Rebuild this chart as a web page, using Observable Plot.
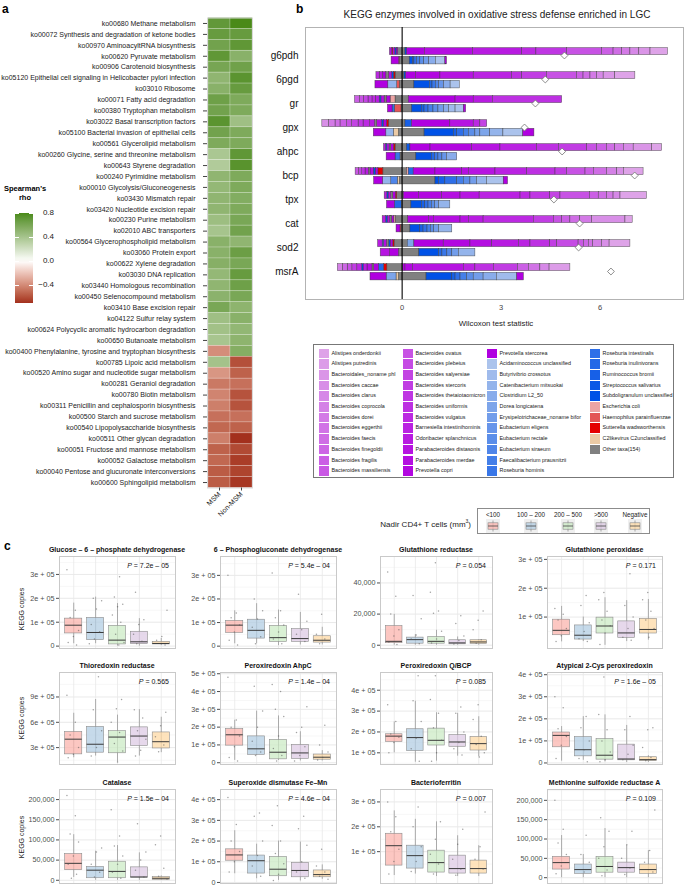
<!DOCTYPE html>
<html><head><meta charset="utf-8">
<script src="https://cdn.jsdelivr.net/npm/d3@7"></script>
<script src="https://cdn.jsdelivr.net/npm/@observablehq/plot@0.6"></script>
<style>
body{margin:0;background:#fff;font-family:"Liberation Sans",Arial,sans-serif;}
#root{position:relative;width:685px;height:886px;overflow:hidden;background:#fff;}
#root svg{position:absolute;overflow:visible;}
</style></head>
<body><div id="root"></div>
<script>
// ---------------- Panel a data ----------------
const heatGroups = ["MSM", "Non-MSM"];
const pathways = [
 "ko00680 Methane metabolism","ko00072 Synthesis and degradation of ketone bodies","ko00970 AminoacyltRNA biosynthesis",
 "ko00620 Pyruvate metabolism","ko00906 Carotenoid biosynthesis","ko05120 Epithelial cell signaling in Helicobacter pylori infection",
 "ko03010 Ribosome","ko00071 Fatty acid degradation","ko00380 Tryptophan metabolism","ko03022 Basal transcription factors",
 "ko05100 Bacterial invasion of epithelial cells","ko00561 Glycerolipid metabolism","ko00260 Glycine, serine and threonine metabolism",
 "ko00643 Styrene degradation","ko00240 Pyrimidine metabolism","ko00010 Glycolysis/Gluconeogenesis","ko03430 Mismatch repair",
 "ko03420 Nucleotide excision repair","ko00230 Purine metabolism","ko02010 ABC transporters","ko00564 Glycerophospholipid metabolism",
 "ko03060 Protein export","ko00622 Xylene degradation","ko03030 DNA replication","ko03440 Homologous recombination",
 "ko00450 Selenocompound metabolism","ko03410 Base excision repair","ko04122 Sulfur relay system",
 "ko00624 Polycyclic aromatic hydrocarbon degradation","ko00650 Butanoate metabolism",
 "ko00400 Phenylalanine, tyrosine and tryptophan biosynthesis","ko00785 Lipoic acid metabolism",
 "ko00520 Amino sugar and nucleotide sugar metabolism","ko00281 Geraniol degradation","ko00780 Biotin metabolism",
 "ko00311 Penicillin and cephalosporin biosynthesis","ko00500 Starch and sucrose metabolism","ko00540 Lipopolysaccharide biosynthesis",
 "ko00511 Other glycan degradation","ko00051 Fructose and mannose metabolism","ko00052 Galactose metabolism",
 "ko00040 Pentose and glucuronate interconversions","ko00600 Sphingolipid metabolism"];
const rhoMSM = [0.7,0.68,0.63,0.71,0.61,0.5,0.53,0.65,0.63,0.73,0.63,0.58,0.38,0.35,0.5,0.48,0.5,0.5,0.44,0.4,0.53,0.53,0.54,0.48,0.5,0.52,0.6,0.43,0.42,0.39,-0.39,0.41,-0.36,-0.46,-0.42,-0.44,-0.49,-0.52,-0.44,-0.54,-0.52,-0.56,-0.56];
const rhoNonMSM = [0.8,0.68,0.71,0.53,0.64,0.73,0.68,0.58,0.58,0.43,0.58,0.58,0.71,0.74,0.58,0.58,0.56,0.58,0.6,0.63,0.5,0.66,0.6,0.68,0.65,0.6,0.51,0.53,0.49,0.51,0.55,-0.6,-0.54,-0.49,-0.59,-0.59,-0.49,-0.54,-0.7,-0.62,-0.66,-0.64,-0.68];
const rhoLegendTicks = [0.8, 0.4, 0.0, -0.4];

// ---------------- Panel b data ----------------
const enzymes = ["g6pdh","6pgd","gr","gpx","ahpc","bcp","tpx","cat","sod2","msrA"];
const taxa = ["Alistipes onderdonkii","Alistipes putredinis","Bacteroidales_noname phl","Bacteroides caccae","Bacteroides clarus",
 "Bacteroides coprocola","Bacteroides dorei","Bacteroides eggerthii","Bacteroides faecis","Bacteroides finegoldii","Bacteroides fragilis",
 "Bacteroides massiliensis","Bacteroides ovatus","Bacteroides plebeius","Bacteroides salyersiae","Bacteroides stercoris",
 "Bacteroides thetaiotaomicron","Bacteroides uniformis","Bacteroides vulgatus","Barnesiella intestinihominis","Odoribacter splanchnicus",
 "Parabacteroides distasonis","Parabacteroides merdae","Prevotella copri","Prevotella stercorea","Acidaminococcus unclassified",
 "Butyrivibrio crossotus","Catenibacterium mitsuokai","Clostridium L2_50","Dorea longicatena","Erysipelotrichaceae_noname bifor",
 "Eubacterium eligens","Eubacterium rectale","Eubacterium siraeum","Faecalibacterium prausnitzii","Roseburia hominis",
 "Roseburia intestinalis","Roseburia inulinivorans","Ruminococcus bromii","Streptococcus salivarius","Subdoligranulum unclassified",
 "Escherichia coli","Haemophilus parainfluenzae","Sutterella wadsworthensis","C2likevirus C2unclassified","Other taxa(154)"];
// [taxon index, contribution]; negatives stack left of 0, positives right, in listed order
const upperSegments = [
 [[45,-0.12],[24,-0.05],[40,-0.04],[23,-0.06],[43,-0.03],[22,-0.07],[45,0.1],[40,0.05],[24,0.54],[22,1.46],[20,1.49],[18,0.43],[16,0.93],[12,1.06],[10,0.35],[8,0.26],[6,0.25],[4,0.27],[2,0.34],[0,0.53]],
 [[45,-0.2],[43,-0.05],[40,-0.05],[22,-0.1],[45,-0.08],[24,-0.1],[20,-0.1],[18,-0.1],[45,0.07],[40,0.05],[24,0.3],[23,0.74],[21,1.01],[19,1.16],[17,0.31],[15,0.75],[12,0.91],[10,0.2],[8,0.21],[6,0.2],[4,0.2],[2,0.35],[0,0.61]],
 [[45,-0.2],[41,-0.15],[24,-0.12],[45,-0.06],[22,-0.1],[40,-0.05],[20,-0.12],[18,-0.1],[16,-0.12],[14,-0.14],[12,-0.12],[10,-0.15],[45,0.2],[24,1.42],[22,0.55],[20,0.58],[17,2.1]],
 [[45,-0.4],[43,-0.06],[24,-0.1],[40,-0.05],[22,-0.15],[45,-0.06],[20,-0.15],[18,-0.2],[16,-0.15],[14,-0.2],[12,-0.15],[10,-0.2],[8,-0.15],[6,-0.2],[3,-0.2],[45,0.1],[38,0.2],[24,1.16],[21,0.71],[18,0.2],[14,0.21]],
 [[45,-0.2],[43,-0.05],[24,-0.08],[45,-0.05],[22,-0.07],[40,-0.04],[20,-0.06],[45,0.15],[39,0.1],[24,0.61],[23,1.26],[21,0.86],[19,1.11],[17,0.66],[15,0.86],[12,0.3],[10,0.3],[8,0.25],[6,0.26],[4,0.3],[2,0.56],[0,0.3]],
 [[45,-0.57],[43,-0.15],[24,-0.08],[40,-0.06],[22,-0.1],[45,-0.05],[20,-0.1],[17,-0.1],[14,-0.1],[11,-0.1],[45,0.15],[41,0.05],[37,0.15],[24,0.66],[23,0.81],[22,0.2],[21,0.81],[19,0.96],[17,0.86],[15,0.35],[12,0.56],[10,0.25],[8,0.4],[5,0.31],[3,0.2],[0,0.6]],
 [[45,-0.15],[43,-0.04],[24,-0.08],[45,-0.06],[22,-0.08],[40,-0.04],[20,-0.08],[45,0.05],[24,0.46],[23,0.7],[22,0.56],[21,0.58],[19,1.24],[18,0.3],[16,0.6],[14,0.31],[12,0.89],[10,0.27],[8,0.25],[6,0.2],[4,0.21],[0,0.8]],
 [[45,-0.2],[41,-0.04],[24,-0.07],[45,-0.05],[22,-0.08],[40,-0.05],[20,-0.1],[45,0.18],[24,0.63],[23,0.15],[22,0.81],[21,0.25],[20,0.45],[18,1.52],[15,0.61],[12,0.25],[10,0.25],[8,0.3],[6,0.36],[3,1.01],[0,0.22]],
 [[45,-0.23],[43,-0.04],[24,-0.08],[40,-0.05],[45,-0.06],[22,-0.09],[36,-0.04],[20,-0.14],[45,0.17],[29,0.2],[24,0.89],[23,0.81],[22,0.66],[20,0.81],[19,0.35],[17,0.6],[15,0.21],[13,0.65],[11,0.16],[9,0.15],[7,0.13],[5,0.27],[3,0.23],[0,0.63]],
 [[45,-0.45],[43,-0.1],[37,-0.15],[24,-0.15],[45,-0.05],[22,-0.15],[20,-0.12],[40,-0.04],[18,-0.15],[15,-0.15],[12,-0.14],[9,-0.15],[5,-0.15],[45,0.03],[24,0.07],[23,0.23],[21,1.54],[19,0.35],[17,0.56],[15,0.73],[10,0.33],[7,0.35],[4,0.28],[1,0.63]]
];
const lowerSegments = [
 [[45,-0.07],[42,-0.02],[24,-0.23],[45,0.23],[40,0.1],[38,0.04],[36,0.08],[34,0.1],[32,0.12],[30,0.15],[28,0.2],[25,0.29],[24,0.05]],
 [[45,-0.07],[42,-0.08],[27,-0.27],[24,-0.39],[45,0.37],[40,0.47],[37,0.08],[35,0.1],[33,0.1],[31,0.15],[28,0.2],[25,0.28]],
 [[45,-0.02],[42,-0.2],[36,-0.07],[24,-0.14],[45,0.3],[40,0.3],[38,0.08],[36,0.12],[34,0.15],[32,0.15],[30,0.17],[28,0.15],[26,0.2],[25,0.25],[24,0.07]],
 [[45,-0.1],[44,-0.15],[27,-0.23],[24,-0.38],[45,0.68],[40,0.89],[38,0.1],[36,0.2],[34,0.15],[32,0.2],[30,0.15],[29,0.3],[27,0.4],[25,0.6],[24,0.34]],
 [[45,-0.05],[35,-0.15],[24,-0.27],[45,0.43],[40,0.47],[37,0.1],[35,0.1],[33,0.12],[31,0.14],[28,0.31]],
 [[45,-0.07],[44,-0.06],[33,-0.2],[27,-0.25],[24,-0.27],[45,1.01],[40,0.1],[38,0.2],[36,0.36],[34,0.2],[32,0.2],[30,0.2],[27,0.3],[25,0.51],[24,0.13]],
 [[37,-0.22],[24,-0.24],[45,0.28],[40,0.32],[38,0.1],[36,0.1],[34,0.1],[32,0.1],[30,0.12],[27,0.34]],
 [[45,-0.02],[42,-0.03],[24,-0.12],[45,0.25],[40,0.3],[38,0.1],[36,0.12],[34,0.1],[32,0.1],[30,0.15],[27,0.4]],
 [[45,-0.1],[24,-0.27],[21,-0.28],[45,0.52],[40,0.6],[37,0.1],[35,0.15],[33,0.15],[30,0.2],[27,0.5]],
 [[45,-0.1],[44,-0.07],[29,-0.3],[24,-0.49],[45,0.74],[40,0.78],[38,0.1],[36,0.15],[34,0.2],[32,0.2],[30,0.3],[28,0.4],[26,0.62],[24,0.2]]
];
const wilcoxonStat = [4.92,4.34,4.04,3.71,4.85,7.05,4.6,5.38,5.35,6.33];
const wilcoxonTicks = [0, 3, 6];

// ---------------- Panel c data ----------------
const cd4Groups = ["<100","100 – 200","200 – 500",">500","Negative"];
const panelTitles = ["Glucose – 6 – phosphate dehydrogenase","6 – Phosphogluconate dehydrogenase","Glutathione reductase","Glutathione peroxidase",
 "Thioredoxin reductase","Peroxiredoxin AhpC","Peroxiredoxin Q/BCP","Atypical 2-Cys peroxiredoxin",
 "Catalase","Superoxide dismutase Fe–Mn","Bacterioferritin","Methionine sulfoxide reductase A"];
const pValues = ["7.2e – 05","5.4e – 04","0.054","0.171","0.565","1.4e – 04","0.085","1.6e – 05","1.5e – 04","4.6e – 04","0.007","0.109"];
const yTicks = [[0,1e5,2e5,3e5],[0,1e5,2e5,3e5],[0,20000,40000],[1e5,2e5,3e5],[3e5,6e5,9e5],[0,1e5,2e5,3e5,4e5,5e5],
 [1e5,2e5,3e5,4e5],[0,1e5,2e5,3e5,4e5],[0,50000,100000,150000,200000],[0,1e5,2e5,3e5,4e5],[1e5,2e5,3e5],[0,50000,100000,150000,200000]];
const yDomains = [[-10000,375000],[-10000,380000],[-2100,57000],[-9000,310000],[100000,1190000],[-10000,507000],
 [44000,485000],[-7000,410000],[-8000,225000],[-5000,449000],[-28000,350000],[-15000,228000]];
const yFormats = ["sci","sci","comma","sci","sci","sci","sci","sci","comma","sci","sci","comma"];
// box stats per group: [whisker low, q1, median, q3, whisker high]
const boxG6pdh = [[10000,53000,87500,115000,180000],[10000,25000,57000,118000,205000],[0,7000,25000,85000,178000],[0,8000,18000,60000,115000],[2000,7000,11000,18000,32000]];
const box6pgd = [[10000,56000,89000,107000,150000],[10000,32000,67000,112000,180000],[2000,18000,36000,86000,153000],[5000,18000,32000,72000,143000],[5000,15000,25000,42000,80000]];
const boxGr = [[0,1300,2500,12300,19800],[0,1000,3600,4900,6800],[0,1000,2500,5300,9600],[0,600,1500,3200,5300],[0,850,2100,3200,3600]];
const boxGpx = [[14000,37000,54000,91000,137000],[15000,22000,37000,71000,100000],[2000,43000,69000,98000,167000],[15000,28000,45000,85000,157000],[20000,43000,57000,94000,161000]];
const boxTrxR = [[180000,220000,400000,485000,707000],[200000,240000,340000,545000,870000],[130000,233000,425000,495000,685000],[200000,320000,437000,540000,750000],[240000,290000,370000,480000,660000]];
const boxAhpC = [[13000,96000,157000,189000,239000],[40000,44000,78000,148000,290000],[13000,19000,59000,128000,263000],[10000,22000,55000,100000,174000],[10000,17000,31000,46000,68000]];
const boxBcp = [[100000,152000,180000,189000,248000],[55000,108000,173000,213000,347000],[60000,135000,160000,216000,292000],[84000,129000,152000,185000,289000],[81000,111000,144000,176000,273000]];
const boxAtyp = [[8000,71000,125000,138000,165000],[12000,30000,60000,117000,210000],[5000,15000,35000,108000,218000],[2000,12000,18000,83000,170000],[2000,9000,15000,26000,33000]];
const boxCat = [[7000,25000,42000,65000,113000],[0,5000,25000,33000,72000],[0,5000,22000,46000,86000],[0,7000,8000,32000,68000],[0,1000,5000,8000,11000]];
const boxSod = [[42000,105000,133000,160000,250000],[18000,43000,105000,130000,185000],[10000,30000,64000,123000,200000],[7000,25000,58000,95000,195000],[15000,25000,38000,58000,85000]];
const boxBfr = [[4000,44000,124000,172000,264000],[10000,32000,84000,124000,230000],[0,16000,56000,104000,220000],[0,12000,32000,84000,164000],[0,12000,32000,64000,124000]];
const boxMsrA = [[0,21000,39000,54000,109000],[0,10000,21000,34000,60000],[0,13000,29000,54000,127000],[0,13000,26000,39000,83000],[0,10000,21000,34000,70000]];
// individual sample points per group
const ptsG6pdh = [[320000,150000,120000,65000,40000,15000,5000],[200000,190000,155000,90000,60000,30000,10000],[290000,205000,175000,165000,130000,100000,50000,15000,5000],[225000,110000,90000,50000,20000,10000],[150000,40000,25000,5000]];
const pts6pgd = [[300000,140000,120000,90000,60000,25000,5000],[200000,150000,115000,80000,40000,10000],[310000,150000,120000,90000,60000,30000,10000],[220000,105000,70000,50000,20000],[135000,50000,30000,10000]];
const ptsGr = [[47000,31500,20000,10000,6000,2000,500],[32000,17000,6500,4000,1000],[53000,34000,22000,20500,9000,4000,1500],[19000,14000,6000,3000,800],[22000,16000,10000,3500,1200]];
const ptsGpx = [[130000,110000,90000,60000,35000,15000],[175000,140000,80000,50000,25000,15000],[185000,160000,120000,90000,70000,45000,5000],[250000,140000,100000,60000,30000,20000],[185000,160000,120000,90000,60000,30000]];
const ptsTrxR = [[920000,600000,450000,300000,220000,180000],[1140000,750000,500000,300000,200000],[870000,760000,600000,480000,350000,260000,130000],[750000,650000,500000,400000,270000,200000],[720000,560000,430000,330000,250000]];
const ptsAhpC = [[480000,240000,200000,150000,90000,30000,10000],[430000,290000,200000,120000,60000,40000],[440000,400000,300000,260000,150000,80000,40000,10000],[315000,200000,170000,90000,40000,10000],[210000,100000,60000,30000,15000]];
const ptsBcp = [[330000,250000,190000,175000,150000,100000],[470000,350000,250000,170000,120000,60000],[470000,355000,290000,220000,160000,100000,60000],[320000,290000,200000,150000,120000,90000],[330000,260000,180000,140000,100000,80000]];
const ptsAtyp = [[300000,250000,155000,120000,80000,20000],[210000,160000,100000,60000,20000,5000],[390000,220000,150000,100000,50000,15000,5000],[210000,150000,80000,40000,15000],[160000,150000,70000,25000,10000]];
const ptsCat = [[210000,160000,115000,95000,60000,40000,15000,5000],[80000,70000,40000,20000,8000],[175000,110000,85000,60000,40000,20000,5000],[140000,70000,50000,25000,8000],[110000,88000,30000,10000,3000]];
const ptsSod = [[410000,280000,200000,150000,100000,50000],[335000,320000,200000,130000,80000,30000],[370000,275000,200000,140000,90000,40000,10000],[320000,260000,180000,100000,50000,20000],[160000,80000,50000,30000,15000]];
const ptsBfr = [[300000,240000,180000,110000,60000,10000],[280000,200000,120000,60000,20000],[220000,150000,90000,50000,10000],[190000,130000,70000,30000,5000],[260000,120000,70000,30000]];
const ptsMsrA = [[200000,125000,90000,60000,30000,10000],[110000,60000,40000,15000],[155000,120000,80000,50000,20000,5000],[120000,85000,50000,25000,8000],[175000,70000,40000,15000]];

// ---------------- styling ----------------
const FONT = '"Liberation Sans", Arial, sans-serif';
const rhoStops = [-0.7, 0, 0.8];
const rhoColors = ["#a3301d", "#ffffff", "#4a8a18"];
const purpleRamp = d3.interpolateRgb("#dea3e8", "#b000e0");
const blueRamp = d3.interpolateRgb("#abc3ec", "#0051e6");
const taxaColors = taxa.map((t, i) => i <= 24 ? purpleRamp(i / 24) : i <= 40 ? blueRamp((i - 25) / 15)
  : ["#eca4a4", "#e35656", "#e40000", "#ebcaa5", "#808080"][i - 41]);
const pastel = ["#fbb4ae", "#b3cde3", "#ccebc5", "#decbe4", "#fed9a6"];

const root = document.getElementById("root");
function label(html, x, y, o = {}) {
  const d = document.createElement("div");
  d.innerHTML = html;
  const tx = o.anchor === "end" ? "-100%" : o.anchor === "start" ? "0" : "-50%";
  d.style.cssText = `position:absolute;left:${x}px;top:${y}px;white-space:nowrap;font-family:${FONT};font-size:${o.size || 8}px;` +
    `font-weight:${o.weight || "normal"};color:${o.color || "#000"};line-height:1;transform:translate(${tx},-50%)${o.rotate ? ` rotate(${o.rotate}deg)` : ""};`;
  root.appendChild(d);
  return d;
}
function place(node, left, top) {
  node.style.left = left + "px"; node.style.top = top + "px"; node.style.position = "absolute";
  root.appendChild(node);
}

// ---------------- Panel a ----------------
label("a", 2, 9, {size: 12, weight: "bold", anchor: "start"});
const heatCells = pathways.flatMap((p, i) => [
  {pathway: p, group: heatGroups[0], rho: rhoMSM[i]},
  {pathway: p, group: heatGroups[1], rho: rhoNonMSM[i]}]);
const heat = Plot.plot({
  width: 262, height: 540, marginLeft: 207, marginRight: 10, marginTop: 17.5, marginBottom: 52.5,
  style: {fontFamily: FONT, fontSize: "7px", color: "#222", background: "transparent"},
  x: {domain: heatGroups, padding: 0, label: null},
  y: {domain: pathways, padding: 0, label: null},
  color: {type: "linear", domain: rhoStops, range: rhoColors, interpolate: "lab"},
  marks: [
    Plot.cell(heatCells, {x: "group", y: "pathway", fill: "rho", stroke: "#ffffff", strokeOpacity: 0.3, strokeWidth: 0.7}),
    Plot.frame({stroke: "#d9d9d9"}),
    Plot.axisY({tickSize: 4, tickPadding: 8, fontSize: 7, fill: "#1a1a1a", stroke: "#444"}),
    Plot.axisX({tickSize: 3, tickPadding: 2, tickRotate: -45, fontSize: 7, fill: "#1a1a1a", stroke: "#444", label: null})
  ]
});
place(heat, 0, 0);

// colour bar legend
label("Spearman's", 25, 189, {size: 7.5, weight: "bold"});
label("rho", 25, 198, {size: 7.5, weight: "bold"});
const rhoScale = d3.scaleLinear().domain(rhoStops).range(rhoColors).interpolate(d3.interpolateLab);
const barTop = 213, barH = 90, barMax = 0.8, barMin = -0.7;
const stops = d3.range(0, 1.0001, 0.05).map(t => `${rhoScale(barMax - t * (barMax - barMin))} ${t * 100}%`).join(",");
const cbar = document.createElement("div");
cbar.style.cssText = `position:absolute;left:15px;top:${barTop}px;width:18px;height:${barH}px;background:linear-gradient(to bottom,${stops});`;
root.appendChild(cbar);
rhoLegendTicks.forEach(v => {
  const y = barTop + (barMax - v) / (barMax - barMin) * barH;
  for (const x of [15, 29]) {
    const t = document.createElement("div");
    t.style.cssText = `position:absolute;left:${x}px;top:${y - 0.5}px;width:4px;height:1px;background:#fff;`;
    root.appendChild(t);
  }
  label(v === 0 ? "0.0" : (v < 0 ? "\u2212" : "") + Math.abs(v).toFixed(1), 54, y, {size: 8, anchor: "end", color: "#222"});
});

// ---------------- Panel b ----------------
label("b", 296, 9, {size: 12, weight: "bold", anchor: "start"});
label("KEGG enzymes involved in oxidative stress defense enriched in LGC", 497, 15, {size: 10, color: "#222"});
const toRows = segs => segs.flatMap((arr, i) => arr.map(([t, v]) => ({enzyme: enzymes[i], taxon: taxa[t], v})));
const upperRows = toRows(upperSegments), lowerRows = toRows(lowerSegments);
const diamonds = enzymes.map((e, i) => ({enzyme: e, stat: wilcoxonStat[i]}));
const barStyle = {stroke: "#3a3a3a", strokeWidth: 0.5, strokeOpacity: 0.85};
const bplot = Plot.plot({
  width: 430, height: 335, marginLeft: 50, marginRight: 2, marginTop: 27, marginBottom: 36,
  style: {fontFamily: FONT, background: "transparent"},
  x: {domain: [-2.93, 8.53], label: null},
  y: {domain: enzymes, paddingInner: 0, paddingOuter: 0.5, label: null},
  color: {domain: taxa, range: taxaColors},
  marks: [
    Plot.frame({stroke: "#b3b3b3"}),
    Plot.barX(upperRows, Plot.stackX({x: "v", y: "enzyme", fill: "taxon", insetTop: 4.6, insetBottom: 12.4, ...barStyle})),
    Plot.barX(lowerRows, Plot.stackX({x: "v", y: "enzyme", fill: "taxon", insetTop: 13.3, insetBottom: 3.1, ...barStyle})),
    Plot.ruleX([0], {stroke: "#000", strokeWidth: 1.1}),
    Plot.dot(diamonds, {x: "stat", y: "enzyme", symbol: "diamond2", r: 3.1, fill: "#fff", stroke: "#707070", strokeWidth: 0.8}),
    Plot.axisY({tickSize: 0, tickPadding: 7, fontSize: 10, fill: "#111"}),
    Plot.axisX({ticks: wilcoxonTicks, tickSize: 0, tickPadding: 5, fontSize: 7.5, fill: "#444", label: null})
  ]
});
place(bplot, 255, 0);
label("Wilcoxon test statistic", 496, 324, {size: 7.8, color: "#222"});

// taxa legend
const lg = document.createElement("div");
lg.style.cssText = "position:absolute;left:313px;top:344px;width:361px;height:134px;border:1px solid #777;box-sizing:border-box;";
root.appendChild(lg);
const colX = [5, 89, 173, 276];
taxa.forEach((t, i) => {
  const col = i < 36 ? Math.floor(i / 12) : 3, row = i < 36 ? i % 12 : i - 36;
  const top = 3.5 + row * 10.7;
  const sw = document.createElement("div");
  sw.style.cssText = `position:absolute;left:${colX[col]}px;top:${top}px;width:9.5px;height:9.7px;background:${taxaColors[i]};`;
  lg.appendChild(sw);
  const tx = document.createElement("div");
  tx.textContent = t;
  tx.style.cssText = `position:absolute;left:${colX[col] + 12.5}px;top:${top + 5}px;transform:translateY(-50%);font-family:${FONT};font-size:5.4px;line-height:1;white-space:nowrap;color:#222;`;
  lg.appendChild(tx);
});

// CD4 legend
label("Nadir CD4+ T cells (mm<sup style='font-size:5px'>3</sup>)", 471, 524, {size: 8, anchor: "end", color: "#222"});
const cl = document.createElement("div");
cl.style.cssText = "position:absolute;left:477px;top:508px;width:173px;height:26px;border:1px solid #8c8c8c;box-sizing:border-box;";
root.appendChild(cl);
const keyX = [493, 531, 568, 601, 635];
cd4Groups.forEach((g, i) => {
  label(g, keyX[i], 515, {size: 6.3, color: "#222"});
  const k = document.createElement("div");
  k.innerHTML = `<svg width="14" height="14" style="position:static"><rect x="0" y="0" width="14" height="14" fill="#efefef"/>` +
    `<line x1="7" x2="7" y1="1.5" y2="12.5" stroke="#8a8a8a" stroke-width="0.7"/>` +
    `<rect x="2" y="3.8" width="10" height="6.4" fill="${pastel[i]}" fill-opacity="0.75" stroke="#8a8a8a" stroke-width="0.6"/>` +
    `<line x1="2" x2="12" y1="7" y2="7" stroke="#444" stroke-width="0.8"/></svg>`;
  k.style.cssText = `position:absolute;left:${keyX[i] - 7}px;top:519px;width:14px;height:14px;line-height:0;`;
  root.appendChild(k);
});

// ---------------- Panel c ----------------
label("c", 4, 546, {size: 12, weight: "bold", anchor: "start"});
const boxes = [boxG6pdh, box6pgd, boxGr, boxGpx, boxTrxR, boxAhpC, boxBcp, boxAtyp, boxCat, boxSod, boxBfr, boxMsrA];
const points = [ptsG6pdh, pts6pgd, ptsGr, ptsGpx, ptsTrxR, ptsAhpC, ptsBcp, ptsAtyp, ptsCat, ptsSod, ptsBfr, ptsMsrA];
const colLeft = [59, 220, 380, 547], colW = [116, 116, 112, 115];
const rowTop = [556, 672, 789], rowH = [92, 92, 94];
const sciFmt = d => d === 0 ? "0" : `${Math.round(d / 1e5)}e + 05`;
const commaFmt = d3.format(",");
const jit = i => (((i * 0.6180339) % 1) - 0.5) * 0.62;
const HW = 0.39;

panelTitles.forEach((title, k) => {
  const c = k % 4, r = Math.floor(k / 4);
  const stats = boxes[k].map((s, i) => ({gi: i + 1, group: cd4Groups[i], lo: s[0], q1: s[1], med: s[2], q3: s[3], hi: s[4]}));
  const pts = points[k].flatMap((arr, i) => arr.map(v => ({gi: i + 1, v})));
  const major = yTicks[k], step = major[1] - major[0], dom = yDomains[k];
  const minor = [major[0] - step / 2, ...major.map(t => t + step / 2)].filter(t => t > dom[0] && t < dom[1]);
  const p = Plot.plot({
    width: 45 + colW[c] + 3, height: 2 + rowH[r] + 4,
    marginLeft: 45, marginRight: 3, marginTop: 2, marginBottom: 4,
    style: {fontFamily: FONT, background: "transparent"},
    x: {domain: [0.35, 5.65], axis: null},
    y: {domain: dom, label: null},
    color: {domain: cd4Groups, range: pastel},
    marks: [
      Plot.gridY(minor, {stroke: "#f2f2f2", strokeOpacity: 1, strokeWidth: 0.6}),
      Plot.gridY(major, {stroke: "#e3e3e3", strokeOpacity: 1, strokeWidth: 0.8}),
      Plot.ruleX([1, 2, 3, 4, 5], {stroke: "#e8e8e8", strokeWidth: 0.8}),
      Plot.ruleX(stats, {x: "gi", y1: "lo", y2: "hi", stroke: "#8c8c8c", strokeWidth: 0.7}),
      Plot.rectY(stats, {x1: d => d.gi - HW, x2: d => d.gi + HW, y1: "q1", y2: "q3", fill: "group", fillOpacity: 0.75, stroke: "#8c8c8c", strokeWidth: 0.6}),
      Plot.ruleY(stats, {x1: d => d.gi - HW, x2: d => d.gi + HW, y: "med", stroke: "#3a3a3a", strokeWidth: 1}),
      Plot.dot(pts, {x: (d, i) => d.gi + jit(i), y: "v", r: 0.75, fill: "#555", fillOpacity: 0.55}),
      Plot.frame({stroke: "#c9c9c9"}),
      Plot.axisY(major, {tickSize: 3, tickPadding: 2, fontSize: 7.2, fill: "#4d4d4d", stroke: "#4d4d4d",
        tickFormat: yFormats[k] === "sci" ? sciFmt : commaFmt})
    ]
  });
  place(p, colLeft[c] - 45, rowTop[r] - 2);
  label(title, colLeft[c] + colW[c] / 2, rowTop[r] - 7, {size: 7, weight: "bold", color: "#111"});
  label(`<i>P</i> = ${pValues[k]}`, colLeft[c] + colW[c] - 6, rowTop[r] + 9, {size: 7, anchor: "end", color: "#111"});
});
[609, 718, 837].forEach(y => label("KEGG copies", 21, y, {size: 7, rotate: -90, color: "#222"}));
</script></body></html>
